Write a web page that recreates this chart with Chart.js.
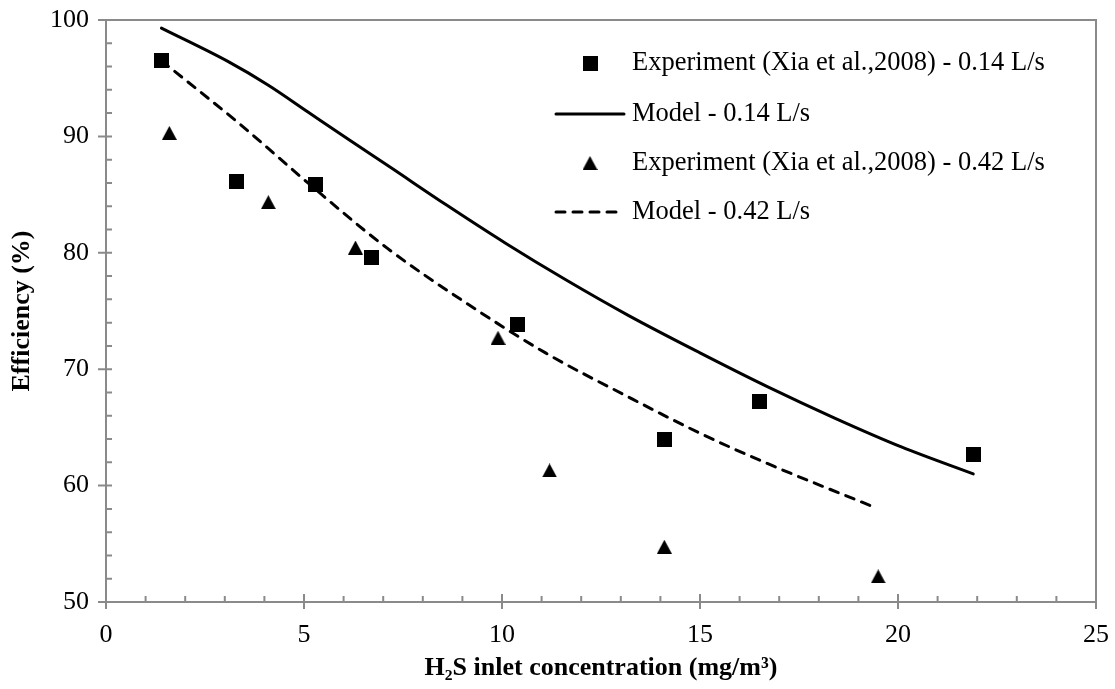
<!DOCTYPE html>
<html><head><meta charset="utf-8">
<script src="https://cdn.jsdelivr.net/npm/chart.js@4.4.1/dist/chart.umd.min.js"></script>
<style>html,body{margin:0;padding:0;background:#fff}canvas{display:block}</style>
</head><body>
<canvas id="c" width="1115" height="689"></canvas>
<script>
// ---- data ----
const seriesNames = [
  'Experiment (Xia et al.,2008) - 0.14 L/s',
  'Model - 0.14 L/s',
  'Experiment (Xia et al.,2008) - 0.42 L/s',
  'Model - 0.42 L/s'
];
const expX014 = [1.4, 3.3, 5.3, 6.7, 10.4, 14.1, 16.5, 21.9];
const expY014 = [96.5, 86.15, 85.85, 79.6, 73.85, 64.0, 67.2, 62.65];
const modelX014 = [1.4, 3.1, 4.1, 5.1, 6.1, 7.2, 8.6, 10.1, 11.6, 13.2, 15.0, 16.7, 18.4, 20.1, 21.9];
const modelY014 = [99.3, 96.4, 94.4, 92.1, 89.8, 87.3, 84.1, 80.8, 77.7, 74.6, 71.4, 68.5, 65.8, 63.3, 61.0];
const expX042 = [1.6, 4.1, 6.3, 9.9, 11.2, 14.1, 19.5];
const expY042 = [90.3, 84.35, 80.45, 72.7, 61.3, 54.75, 52.2];
const modelX042 = [1.4, 3.4, 5.1, 7.1, 9.0, 11.1, 13.2, 15.0, 16.7, 19.4];
const modelY042 = [96.5, 91.0, 86.0, 80.4, 75.9, 71.4, 67.6, 64.5, 61.9, 58.15];
const xTicks = [0, 5, 10, 15, 20, 25];
const yTicks = [50, 60, 70, 80, 90, 100];
const xTitle = 'H\u2082S inlet concentration (mg/m\u00B3)';
const yTitle = 'Efficiency (%)';

const pts = (xs, ys) => xs.map((v, i) => ({x: v, y: ys[i]}));
const FONT = '"Liberation Serif", "Times New Roman", serif';
const AXIS = '#8a8a8a';

function makeMarker(shape, w, h) {
  const c = document.createElement('canvas');
  c.width = w; c.height = h;
  const g = c.getContext('2d');
  g.fillStyle = '#000';
  if (shape === 'square') g.fillRect(0, 0, w, h);
  else { g.beginPath(); g.moveTo(w / 2, 0); g.lineTo(w, h); g.lineTo(0, h); g.closePath(); g.fill(); }
  return c;
}
const sq = makeMarker('square', 15, 15);
const tri = makeMarker('triangle', 15, 14);

const axisPlugin = {
  id: 'axisBox',
  beforeDatasetsDraw(chart) {
    const {ctx, chartArea: a, scales: {x, y}} = chart;
    ctx.save();
    ctx.strokeStyle = AXIS;
    ctx.lineWidth = 2;
    ctx.strokeRect(a.left, a.top, a.right - a.left, a.bottom - a.top);
    ctx.beginPath();
    for (let v = x.min; v <= x.max; v += 1) {
      const px = x.getPixelForValue(v);
      if (xTicks.includes(v)) { ctx.moveTo(px, a.bottom - 8); ctx.lineTo(px, a.bottom + 7); }
      else { ctx.moveTo(px, a.bottom - 6); ctx.lineTo(px, a.bottom); }
    }
    for (let v = y.min; v <= y.max; v += 2) {
      const py = y.getPixelForValue(v);
      if (yTicks.includes(v)) { ctx.moveTo(a.left - 8, py); ctx.lineTo(a.left + 6, py); }
      else { ctx.moveTo(a.left, py); ctx.lineTo(a.left + 6, py); }
    }
    ctx.stroke();
    ctx.restore();
  }
};

const legendPlugin = {
  id: 'customLegend',
  afterDraw(chart) {
    const {ctx} = chart;
    const rows = [63, 114, 163, 212];
    ctx.save();
    chart.data.datasets.forEach((ds, i) => {
      const yy = rows[i];
      if (ds.showLine) {
        ctx.beginPath();
        ctx.strokeStyle = '#000';
        ctx.lineWidth = ds.borderWidth;
        ctx.lineCap = ds.borderCapStyle || 'butt';
        ctx.setLineDash(ds.borderDash || []);
        ctx.moveTo(556, yy); ctx.lineTo(624, yy);
        ctx.stroke();
        ctx.setLineDash([]);
      } else {
        const im = ds.pointStyle;
        ctx.drawImage(im, 590 - im.width / 2, yy - im.height / 2);
      }
      ctx.fillStyle = '#000';
      ctx.font = '26.5px ' + FONT;
      ctx.textBaseline = 'middle';
      ctx.textAlign = 'left';
      ctx.fillText(ds.label, 632, yy);
    });
    ctx.restore();
  }
};

new Chart(document.getElementById('c'), {
  type: 'scatter',
  data: {
    datasets: [
      { label: seriesNames[0], data: pts(expX014, expY014), pointStyle: sq, pointRadius: 8, showLine: false, order: 0 },
      { label: seriesNames[1], data: pts(modelX014, modelY014), showLine: true, pointRadius: 0, borderColor: '#000', borderWidth: 3, cubicInterpolationMode: 'monotone', borderCapStyle: 'round', order: 1 },
      { label: seriesNames[2], data: pts(expX042, expY042), pointStyle: tri, pointRadius: 8, showLine: false, order: 0 },
      { label: seriesNames[3], data: pts(modelX042, modelY042), showLine: true, pointRadius: 0, borderColor: '#000', borderWidth: 3, borderDash: [9, 8], borderCapStyle: 'round', cubicInterpolationMode: 'monotone', order: 1 }
    ]
  },
  options: {
    responsive: false,
    animation: false,
    layout: { padding: { left: 0, right: 19, top: 20, bottom: 0 } },
    plugins: { legend: { display: false }, tooltip: { enabled: false } },
    scales: {
      x: {
        type: 'linear', min: 0, max: 25, position: 'bottom',
        afterBuildTicks: s => { s.ticks = xTicks.map(v => ({value: v})); },
        afterFit: s => { s.height = 87; s.paddingLeft = 0; s.paddingRight = 0; },
        ticks: { font: { family: FONT, size: 26 }, color: '#000', padding: 18, maxRotation: 0, autoSkip: false },
        grid: { display: false, drawTicks: false },
        border: { display: false },
        title: { display: true, text: xTitle, color: '#000', font: { family: FONT, size: 26, weight: 'bold' }, padding: { top: 0, bottom: 5 } }
      },
      y: {
        type: 'linear', min: 50, max: 100,
        afterBuildTicks: s => { s.ticks = yTicks.map(v => ({value: v})); },
        afterFit: s => { s.width = 106; s.paddingTop = 0; s.paddingBottom = 0; },
        ticks: { font: { family: FONT, size: 26 }, color: '#000', padding: 17, autoSkip: false },
        grid: { display: false, drawTicks: false },
        border: { display: false },
        title: { display: true, text: yTitle, color: '#000', font: { family: FONT, size: 26, weight: 'bold' }, padding: { top: 7, bottom: 0 } }
      }
    }
  },
  plugins: [axisPlugin, legendPlugin]
});
</script>
</body></html>
